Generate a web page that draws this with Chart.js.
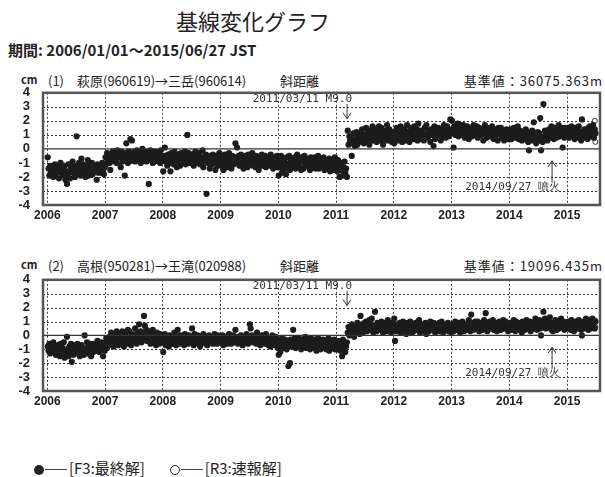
<!DOCTYPE html>
<html>
<head>
<meta charset="utf-8">
<script src="https://cdn.jsdelivr.net/npm/chart.js@4.4.1/dist/chart.umd.min.js"></script>
<style>
  body { margin: 0; width: 605px; height: 477px; position: relative; overflow: hidden; background: #fff;
         font-family: "Noto Sans CJK JP", sans-serif; color: #222; }
  .t { position: absolute; white-space: nowrap; line-height: 1; }
  canvas { position: absolute; left: 0; }
  .dot { display: inline-block; width: 10px; height: 10px; border-radius: 50%; background: #222; vertical-align: middle; }
  .ring { display: inline-block; width: 8px; height: 8px; border-radius: 50%; border: 1.5px solid #222; vertical-align: middle; }
  .dash { display: inline-block; width: 22px; height: 1px; background: #444; vertical-align: middle; margin: 0 2px 0 1px; }
</style>
</head>
<body>
<div class="t" style="left:176px;top:9px;font-size:22px;">基線変化グラフ</div>
<div class="t" style="left:8px;top:42px;font-size:15px;font-weight:bold;">期間: 2006/01/01～2015/06/27 JST</div>

<div class="t" style="left:21px;top:74px;font-size:11px;font-weight:bold;">cm</div>
<div class="t" style="left:48px;top:74px;font-size:13px;">(1)</div>
<div class="t" style="left:77px;top:74px;font-size:13px;">萩原(960619)→三岳(960614)</div>
<div class="t" style="left:280px;top:74px;font-size:13px;">斜距離</div>
<div class="t" style="right:2px;top:74px;font-size:13px;letter-spacing:1px;">基準値：36075.363m</div>

<div class="t" style="left:21px;top:259px;font-size:11px;font-weight:bold;">cm</div>
<div class="t" style="left:48px;top:259px;font-size:13px;">(2)</div>
<div class="t" style="left:77px;top:259px;font-size:13px;">高根(950281)→王滝(020988)</div>
<div class="t" style="left:280px;top:259px;font-size:13px;">斜距離</div>
<div class="t" style="right:2px;top:259px;font-size:13px;letter-spacing:1px;">基準値：19096.435m</div>

<canvas id="c1" width="605" height="145" style="top:80px"></canvas>
<canvas id="c2" width="605" height="144" style="top:267px"></canvas>

<div class="t" style="left:34px;top:460px;font-size:15px;">
  <span class="dot"></span><span class="dash"></span>[F3:最終解]
  <span style="display:inline-block;width:18px"></span>
  <span class="ring"></span><span class="dash"></span>[R3:速報解]
</div>

<script>
// tick years and y range
var years = [2006, 2007, 2008, 2009, 2010, 2011, 2012, 2013, 2014, 2015];
var yTicks = [-4, -3, -2, -1, 0, 1, 2, 3, 4];

// (1) 萩原→三岳, six readings per month, Jan..Dec
var a2006 = [
  -0.6,-1.4,-1.9,-1.2,-1.7,-1.5, -1.3,-2.0,-1.6,-1.1,-1.8,-1.4,
  -1.6,-1.2,-2.1,-1.5,-1.0,-1.7, -1.5,-1.4,-1.9,-1.2,-2.2,-1.6,
  -2.5,-1.8,-1.1,-1.6,-2.1,-1.4, -1.5,-0.9,-1.7,-1.2,-2.0,-1.4,
  0.9,-1.3,-1.8,-1.0,-1.5,-1.9, -0.7,-1.4,-1.1,-1.7,-1.3,-2.0,
  -1.2,-1.6,-0.8,-1.9,-1.4,-1.1, -1.5,-1.0,-1.8,-1.3,-1.6,-1.2,
  -1.4,-2.2,-1.1,-1.7,-1.3,-1.6, -1.2,-1.7,-1.0,-1.5,-1.8,-1.3];
var a2007 = [
  -0.6,-1.1,-0.3,-0.8,-0.5,-1.0, -1.5,-0.4,-0.9,-0.2,-0.7,-0.5,
  -0.8,-0.3,-1.0,-0.1,-0.6,-0.4, -0.5,-1.3,-0.2,-0.9,-0.4,-0.7,
  -1.9,-0.3,0.4,-0.6,-1.0,-0.2, -0.4,0.7,-0.8,0.6,-0.3,-0.6,
  -0.2,-0.9,-0.5,-0.1,-0.7,-0.4, -0.6,-0.3,-1.0,-0.5,0.0,-0.8,
  -0.4,-0.7,-0.2,-0.9,-0.5,-0.3, -2.5,-0.6,-0.1,-0.8,-0.4,-1.0,
  -0.5,-0.9,-0.2,-0.7,-0.3,-0.6, -0.7,-0.4,-1.0,-0.1,-0.6,-0.8];
var a2008 = [
  -1.6,-0.5,0.1,-0.9,-0.6,-1.2, -0.4,-1.0,-0.7,-1.6,-0.3,-0.8,
  -0.6,-1.1,-0.2,-0.8,-0.5,-1.3, -0.9,-0.4,-0.7,-1.2,-0.3,-0.6,
  -0.5,-1.0,-0.8,-0.2,-1.1,-0.6, 1.0,-0.7,-0.3,-1.0,-0.6,-0.9,
  -0.8,-0.4,-1.2,-0.6,-0.2,-0.9, -0.5,-1.0,-0.7,-0.3,-1.1,-0.6,
  -0.8,-0.1,-1.3,-0.6,-0.9,-0.4, -3.2,-0.7,-1.0,-0.5,-1.4,-0.8,
  -0.6,-1.1,-0.4,-0.9,-0.7,-1.5, -0.9,-0.5,-1.2,-0.7,-0.3,-1.0];
var a2009 = [
  -0.7,-1.2,-0.5,-1.5,-0.9,-0.4, -1.0,-0.6,-1.3,-0.8,-0.3,-1.1,
  -0.8,-1.4,-0.5,-0.9,-1.1,-0.6, 0.4,-0.7,0.1,-1.0,-0.5,-1.2,
  -0.9,-0.4,-1.1,-0.7,-1.4,-0.6, -0.5,-1.0,-0.8,-1.3,-0.4,-0.9,
  -1.1,-0.6,-0.9,-0.3,-1.2,-0.7, -0.8,-1.3,-0.5,-1.0,-0.7,-1.5,
  -0.6,-1.1,-0.9,-0.4,-1.2,-0.8, -1.0,-0.5,-1.3,-0.8,-0.6,-1.1,
  -0.7,-1.2,-0.4,-1.0,-0.9,-1.4, -1.1,-0.6,-0.9,-1.3,-0.5,-1.0];
var a2010 = [
  -1.9,-0.8,-1.3,-0.5,-1.7,-1.0, -0.7,-1.4,-1.0,-1.8,-0.6,-1.2,
  -1.1,-0.5,-1.5,-0.9,-1.3,-0.7, -0.8,-1.2,-0.6,-1.4,-1.0,-0.4,
  -1.0,-0.7,-1.3,-0.9,-1.5,-0.6, -0.9,-1.4,-0.5,-1.1,-0.8,-1.2,
  -1.2,-0.7,-1.0,-1.5,-0.6,-1.1, -0.8,-1.3,-1.1,-0.6,-1.4,-0.9,
  -1.0,-0.5,-1.4,-0.8,-1.2,-0.7, -1.3,-0.9,-0.6,-1.5,-1.0,-1.2,
  -0.8,-1.4,-1.1,-0.7,-1.6,-1.0, -1.2,-0.8,-1.5,-1.0,-0.6,-1.3];
var a2011 = [
  -1.1,-1.6,-0.8,-1.4,-2.0,-1.2, -1.5,-1.0,-1.9,-1.3,-0.9,-1.7,
  -1.4,-2.0,1.3,0.3,0.9,0.6, 0.8,-0.5,0.4,1.1,0.6,0.2,
  0.7,1.2,0.3,0.9,0.5,1.0, 1.1,0.6,1.4,0.8,0.4,1.0,
  0.9,1.5,0.5,1.2,0.8,0.3, 1.3,0.7,1.0,1.6,0.6,1.1,
  0.8,1.4,0.5,1.1,0.9,1.6, 1.2,0.6,1.5,0.9,0.3,1.0,
  0.7,1.3,1.0,1.7,0.6,1.1, 1.4,0.8,1.1,0.5,1.2,0.9];
var a2012 = [
  0.4,1.2,0.8,1.5,1.0,0.6, 1.3,0.7,1.6,1.0,0.5,1.2,
  0.9,1.4,0.6,1.1,1.7,0.8, 1.2,0.5,1.0,1.5,0.8,1.3,
  0.7,1.6,1.1,0.9,1.4,0.6, 1.8,1.0,0.7,1.3,1.1,0.8,
  1.1,0.6,1.5,1.0,1.7,0.9, 0.8,1.3,1.1,0.5,1.4,1.0,
  1.2,0.2,1.6,0.7,1.1,1.4, 1.0,1.5,0.8,1.3,0.6,1.2,
  1.4,0.9,1.7,1.1,0.8,1.3, 1.6,1.1,0.9,1.4,2.1,1.2];
var a2013 = [
  2.0,1.3,0.1,1.6,1.0,1.4, 1.2,1.8,0.9,1.5,1.1,1.7,
  1.5,1.0,1.7,1.2,0.8,1.4, 1.1,1.6,1.3,0.7,1.5,1.2,
  1.4,0.9,1.2,1.7,1.0,1.3, 1.2,1.6,0.8,1.3,1.5,1.0,
  1.0,1.4,1.1,0.6,1.3,1.7, 1.3,0.8,1.5,1.1,1.0,1.4,
  0.9,1.2,1.6,1.0,0.7,1.3, 1.4,1.0,1.2,0.6,1.5,1.1,
  1.1,1.5,0.8,1.3,1.0,0.6, 1.2,0.9,1.4,1.1,0.7,1.3];
var a2014 = [
  1.0,1.4,0.7,1.2,0.9,1.5, 1.2,0.8,1.3,1.0,1.6,0.7,
  0.9,1.3,1.1,0.6,1.2,1.0, 1.1,0.7,1.4,0.9,1.2,0.5,
  -0.1,0.8,1.1,0.6,1.3,0.9, 1.9,0.7,1.0,0.4,0.9,1.2,
  0.6,1.1,2.2,-0.1,0.8,0.5, 3.2,0.9,1.3,0.7,1.1,0.6,
  1.0,1.4,0.8,1.2,1.6,0.9, 1.3,0.7,1.5,1.1,0.8,1.4,
  1.2,1.7,0.9,1.3,1.0,1.5, 0.1,1.2,0.8,1.5,1.1,0.9];
var a2015 = [
  1.1,1.5,0.8,1.3,1.0,1.6, 0.9,1.4,1.2,0.7,1.5,1.1,
  1.3,0.8,1.6,1.0,1.2,0.6, 2.1,1.1,0.8,1.4,1.0,1.3,
  1.2,0.7,1.5,1.0,1.6,0.9, 1.3,1.0,1.7,0.8,1.4,1.1];
var r3xA = [2015.48, 2015.49];
var r3yA = [2.0, 0.5];

// (2) 高根→王滝
var b2006 = [
  -0.8,-1.1,-0.6,-1.3,-0.9,-0.7, -1.0,-0.5,-1.2,-0.8,-1.4,-0.9,
  -1.2,-0.7,-1.0,-1.5,-0.6,-1.1, -0.9,-1.3,-0.5,-1.6,-1.0,-1.2,
  -0.1,-1.1,-1.5,-0.8,-1.3,-0.6, -1.9,-1.0,-1.4,-0.7,-1.2,-0.9,
  -1.1,-0.6,-1.3,-0.9,-1.5,-0.8, -0.7,-1.2,-0.9,-1.4,0.0,-1.0,
  -1.0,-0.5,-1.3,-0.8,-1.1,-0.6, -1.5,-0.9,-0.6,-1.2,-0.8,-1.0,
  -0.7,-1.1,-0.4,-0.9,-1.2,-0.6, -1.0,-0.5,-0.8,-1.5,-0.7,-1.1];
var b2007 = [
  -0.6,-0.2,-0.9,-0.4,-0.7,-0.1, -0.3,0.2,-0.6,-0.1,-0.8,-0.4,
  0.0,-0.5,0.3,-0.2,-0.7,-0.3, -0.4,0.1,-0.6,0.3,-0.2,-0.8,
  -0.1,-0.5,0.2,-0.3,0.4,-0.6, 0.3,-0.2,-0.7,0.1,-0.4,0.0,
  -0.3,0.5,-0.1,-0.6,0.2,-0.4, 0.8,-0.2,0.3,-0.5,0.1,-0.3,
  1.4,0.7,-0.1,0.4,-0.4,0.2, -0.2,0.3,-0.6,0.0,-0.3,0.4,
  -0.4,0.1,-0.2,-0.7,0.2,-0.1, -0.3,-0.6,0.1,-0.2,-0.5,0.0];
var b2008 = [
  -1.2,-0.4,0.1,-0.7,-0.2,-0.5, -0.3,-0.8,0.0,-0.5,-0.1,-0.6,
  -0.2,-0.6,0.2,-0.4,-0.7,-0.1, 0.4,-0.3,-0.6,0.0,-0.4,-0.2,
  -0.5,-0.1,-0.7,0.1,-0.3,-0.4, -0.2,-0.6,0.0,-0.4,-0.1,-0.5,
  0.5,-0.3,-0.7,0.1,-0.2,-0.5, -0.4,0.0,-0.6,-0.2,-0.8,-0.1,
  -0.3,-0.5,0.1,-0.4,-0.1,-0.6, -0.2,-0.7,-0.3,0.0,-0.5,-0.4,
  -0.5,-0.1,-0.6,-0.3,0.1,-0.4, -0.3,-0.6,0.0,-0.2,-0.5,-0.1];
var b2009 = [
  -0.2,-0.5,0.0,-0.7,-0.3,-0.4, -0.4,-0.1,-0.6,-0.3,0.1,-0.5,
  -0.3,-0.6,-0.2,0.0,-0.5,-0.1, 0.4,-0.4,-0.1,-0.6,-0.2,-0.3,
  -0.5,0.0,-0.3,-0.7,-0.1,-0.4, -0.2,-0.5,0.1,-0.3,-0.6,-0.1,
  0.8,0.5,-0.3,0.0,-0.5,-0.2, -0.4,-0.1,-0.6,0.2,-0.3,-0.5,
  -0.2,-0.7,-0.4,0.0,-0.1,-0.5, -0.3,-0.6,0.1,-0.4,-0.2,-0.7,
  -0.5,-0.2,-0.8,-0.3,0.0,-0.4, -0.4,-0.7,-0.1,-0.5,-0.3,-0.9];
var b2010 = [
  -1.4,-0.4,-1.2,-0.6,-0.2,-0.8, -0.5,-0.9,-0.3,-0.7,-1.0,-0.4,
  -2.2,-0.6,-2.0,-0.3,-0.8,-0.5, 0.4,-0.7,-0.2,-0.9,-0.5,-0.3,
  -0.6,-0.2,-0.8,-0.4,-1.0,-0.5, -0.3,-0.7,-0.5,-0.1,-0.9,-0.6,
  -0.8,-0.4,-0.6,-1.0,-0.2,-0.7, -0.5,-0.9,-0.3,-0.7,-0.4,-1.1,
  -0.6,-0.2,-0.8,-0.5,-1.0,-0.4, -0.7,-0.3,-0.9,-0.6,-0.4,-1.0,
  -0.5,-0.8,-0.2,-1.1,-0.6,-0.7, -0.9,-0.4,-0.7,-0.3,-1.0,-0.6];
var b2011 = [
  -0.6,-1.0,-0.4,-0.8,-0.5,-1.1, -0.7,-1.5,-0.3,-0.9,-0.6,-1.2,
  -0.8,-0.5,0.2,0.6,0.0,0.4, 0.3,0.8,0.1,0.5,-0.1,0.6,
  0.5,0.2,0.9,0.4,0.7,0.1, 1.4,0.4,0.8,0.2,0.6,0.9,
  0.6,1.0,0.3,0.7,0.5,1.1, 0.4,0.8,1.2,0.5,0.2,0.7,
  1.7,0.6,0.3,0.9,0.5,0.8, 0.7,0.4,1.0,0.6,0.2,0.8,
  0.5,0.9,0.3,0.7,1.1,0.4, 0.8,0.5,0.2,0.6,0.9,0.3];
var b2012 = [
  1.2,-0.4,0.6,0.3,0.8,0.5, 0.4,0.9,0.2,0.7,0.5,1.0,
  0.6,0.3,0.8,0.1,0.5,0.9, 0.7,0.4,1.0,0.6,0.2,0.5,
  0.3,0.8,0.5,0.9,0.4,0.6, 0.6,1.1,0.2,0.5,0.8,0.3,
  0.5,0.7,0.4,0.9,0.1,0.6, 0.8,0.3,0.6,1.0,0.5,0.4,
  0.4,0.9,0.6,0.2,0.7,0.5, 0.7,0.5,0.9,0.3,0.6,1.0,
  0.5,0.2,0.8,0.6,0.4,0.7, 0.6,0.9,0.3,0.7,0.5,0.2];
var b2013 = [
  0.5,0.8,0.3,0.7,1.0,0.4, 0.7,0.4,0.9,0.6,0.2,0.8,
  0.6,1.0,0.5,0.3,0.8,0.7, 0.4,0.8,0.6,1.1,0.5,0.3,
  1.5,0.6,0.9,0.4,0.7,1.0, 0.8,0.5,1.0,0.6,0.3,0.7,
  0.6,0.9,0.4,0.8,1.1,0.5, 1.6,0.7,0.3,0.9,0.6,1.0,
  0.5,0.8,0.6,1.1,0.4,0.7, 0.9,0.6,0.3,0.8,0.5,1.0,
  0.7,0.4,0.9,0.6,1.1,0.5, 0.6,1.0,0.5,0.8,0.3,0.7];
var b2014 = [
  0.6,0.9,0.4,0.8,0.5,1.1, 0.7,0.3,1.0,0.6,0.8,0.4,
  0.5,0.9,0.7,0.2,1.0,0.6, 0.8,0.4,0.6,1.1,0.5,0.9,
  0.6,1.0,0.3,0.7,0.9,0.5, 0.9,0.5,1.2,0.7,0.4,0.8,
  0.7,1.1,0.5,0.0,0.9,0.6, 1.7,0.8,1.2,0.5,1.0,0.7,
  1.0,0.6,1.3,0.8,0.4,0.9, 0.3,0.9,0.6,1.1,0.7,0.4,
  0.8,0.5,1.0,0.7,1.2,0.6, 0.6,1.0,0.4,0.8,0.5,0.9];
var b2015 = [
  0.7,1.0,0.5,0.8,0.4,1.1, 0.6,0.9,0.3,0.7,1.0,0.5,
  0.8,0.5,1.1,0.6,0.9,0.4, 0.0,0.7,1.0,0.5,0.8,1.2,
  0.6,0.9,0.4,1.1,0.7,0.5, 0.8,1.2,0.6,0.9,0.5,1.0];
var r3xB = [2015.48, 2015.49];
var r3yB = [1.1, 0.6];

// spread the six readings of each month over that month
function toPoints(startYear, yearArrays) {
  var pts = [];
  yearArrays.forEach(function (vals, k) {
    vals.forEach(function (v, j) {
      var m = Math.floor(j / 6), i = j % 6;
      pts.push({ x: startYear + k + (m + (i + 0.5) / 6) / 12, y: v });
    });
  });
  return pts;
}
function pairs(xs, ys) {
  return xs.map(function (x, i) { return { x: x, y: ys[i] }; });
}

// dotted horizontal grid, frame, zero line, event arrows
var marks = {
  id: 'marks',
  beforeDatasetsDraw: function (chart) {
    var ctx = chart.ctx, a = chart.chartArea, ys = chart.scales.y;
    ctx.save();
    ctx.strokeStyle = '#333';
    ctx.lineWidth = 1;
    ctx.setLineDash([2, 2]);
    ys.ticks.forEach(function (t) {
      if (t.value === 0) return;
      var y = Math.round(ys.getPixelForValue(t.value)) + 0.5;
      ctx.beginPath();
      ctx.moveTo(a.left, y);
      ctx.lineTo(a.right, y);
      ctx.stroke();
    });
    ctx.restore();
  },
  afterDatasetsDraw: function (chart, args, opts) {
    var ctx = chart.ctx, a = chart.chartArea;
    var xs = chart.scales.x, ys = chart.scales.y;
    ctx.save();
    ctx.strokeStyle = '#333';
    ctx.lineWidth = 1.2;
    ctx.beginPath();
    ctx.moveTo(a.left, ys.getPixelForValue(0));
    ctx.lineTo(a.right, ys.getPixelForValue(0));
    ctx.stroke();

    ctx.fillStyle = '#333';
    ctx.font = '11px "DejaVu Sans Mono", monospace';
    ctx.textBaseline = 'middle';
    ctx.lineWidth = 1;
    opts.events.forEach(function (e) {
      var x = xs.getPixelForValue(e.x);
      var yFrom = ys.getPixelForValue(e.from), yTo = ys.getPixelForValue(e.to);
      ctx.beginPath();
      ctx.moveTo(x, yFrom);
      ctx.lineTo(x, yTo);
      var dir = yTo > yFrom ? -1 : 1;
      ctx.moveTo(x - 4, yTo + dir * 6);
      ctx.lineTo(x, yTo);
      ctx.lineTo(x + 4, yTo + dir * 6);
      ctx.stroke();
      ctx.textAlign = 'right';
      ctx.fillText(e.label, x + e.dx, ys.getPixelForValue(e.textY));
    });

    ctx.strokeStyle = '#555';
    ctx.lineWidth = 2.5;
    ctx.strokeRect(a.left, a.top, a.right - a.left, a.bottom - a.top);
    ctx.restore();
  }
};

function makeChart(id, finals, r3) {
  return new Chart(document.getElementById(id), {
    type: 'scatter',
    data: {
      datasets: [
        { data: finals, backgroundColor: '#1c1c1c', borderWidth: 0, pointRadius: 3.1 },
        { data: r3, backgroundColor: '#fff', borderColor: '#333', borderWidth: 1, pointRadius: 2.5 }
      ]
    },
    options: {
      responsive: false,
      animation: false,
      layout: { padding: { top: 10, right: 2, left: 0, bottom: 0 } },
      plugins: {
        legend: { display: false },
        tooltip: { enabled: false },
        marks: {
          events: [
            { x: 2011.19, from: 3.2, to: 2.15, label: '2011/03/11 M9.0', textY: 3.55, dx: 5 },
            { x: 2014.74, from: -2.4, to: -0.85, label: '2014/09/27 噴火', textY: -2.75, dx: 8 }
          ]
        }
      },
      scales: {
        x: {
          type: 'linear', min: 2005.925, max: 2015.57,
          afterBuildTicks: function (s) { s.ticks = years.map(function (v) { return { value: v }; }); },
          afterFit: function (s) { s.height = 20; },
          ticks: { callback: function (v) { return String(v); }, autoSkip: false, maxRotation: 0,
                   color: '#222', padding: 3, font: { family: 'Liberation Sans', size: 12, weight: 'bold' } },
          grid: { color: '#444', lineWidth: 1, drawTicks: false },
          border: { display: false, dash: [2, 2] }
        },
        y: {
          min: -4, max: 4,
          afterBuildTicks: function (s) { s.ticks = yTicks.map(function (v) { return { value: v }; }); },
          afterFit: function (s) { s.width = 43; },
          ticks: { callback: function (v) { return String(v); }, autoSkip: false, color: '#222', padding: 5,
                   font: { family: 'Liberation Sans', size: 13, weight: 'bold' } },
          grid: { display: false },
          border: { display: false }
        }
      }
    },
    plugins: [marks]
  });
}

makeChart('c1', toPoints(2006, [a2006, a2007, a2008, a2009, a2010, a2011, a2012, a2013, a2014, a2015]), pairs(r3xA, r3yA));
makeChart('c2', toPoints(2006, [b2006, b2007, b2008, b2009, b2010, b2011, b2012, b2013, b2014, b2015]), pairs(r3xB, r3yB));
</script>
</body>
</html>
